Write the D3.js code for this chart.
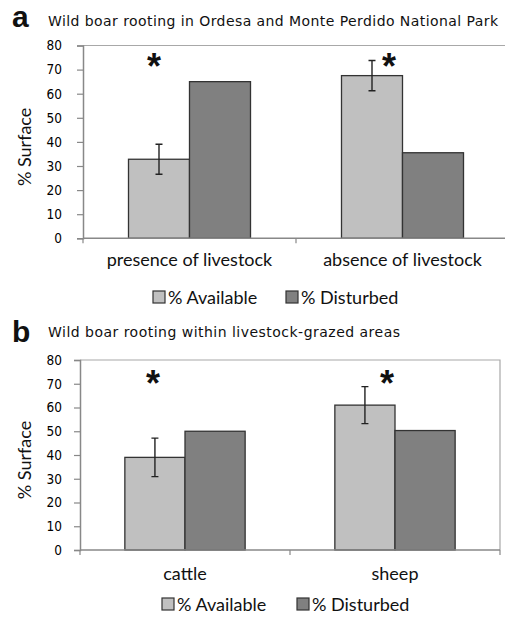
<!DOCTYPE html>
<html><head><meta charset="utf-8">
<script src="https://cdn.jsdelivr.net/npm/d3@7"></script>
<style>body{margin:0;background:#fff}svg{display:block}</style>
</head><body>
<svg id="c" width="505" height="617"></svg>
<script>
const series = ["% Available", "% Disturbed"];
const yTicks = [0, 10, 20, 30, 40, 50, 60, 70, 80];

const catsA = ["presence of livestock", "absence of livestock"];
const availA = [32.8, 67.5];
const availErrA = [6.2, 6.3];
const distA = [65, 35.5];

const catsB = ["cattle", "sheep"];
const availB = [39, 61];
const availErrB = [8.1, 7.8];
const distB = [50, 50.3];

const colors = ["#c0c0c0", "#808080"];
const svg = d3.select("#c");

function panel(o) {
  const g = svg.append("g");
  const y = d3.scaleLinear().domain([0, 80]).range([o.y0, o.y1]);
  const x0 = d3.scaleBand().domain(o.cats).range([o.x0, o.x1]);
  const bw = x0.bandwidth();
  const x1 = d3.scaleBand().domain(series).range([bw * 0.2136, bw * 0.7864]);

  // frame top / right
  g.append("path").attr("d", `M${o.x0},${y(80)}H${o.x1}V${y(0)}`)
    .attr("fill", "none").attr("stroke", "#a8a8a8").attr("stroke-width", 1.2);

  const rows = o.cats.map((c, i) => ({c, vals: [o.avail[i], o.dist[i]], err: o.err[i]}));
  const grp = g.selectAll(".grp").data(rows).join("g")
    .attr("transform", d => `translate(${x0(d.c)},0)`);
  grp.selectAll("rect").data(d => d.vals.map((v, j) => ({s: series[j], v, j})))
    .join("rect")
    .attr("x", d => x1(d.s)).attr("width", x1.bandwidth())
    .attr("y", d => y(d.v)).attr("height", d => y(0) - y(d.v))
    .attr("fill", d => colors[d.j]).attr("stroke", "#333").attr("stroke-width", 1.3);

  // error bars on available
  grp.each(function(d) {
    const cx = x1(series[0]) + x1.bandwidth() / 2;
    const s = d3.select(this);
    const t = y(d.vals[0] + d.err), b = y(d.vals[0] - d.err);
    s.append("path").attr("d", `M${cx},${t}V${b}M${cx-3.5},${t}H${cx+3.5}M${cx-3.5},${b}H${cx+3.5}`)
      .attr("stroke", "#222").attr("stroke-width", 1.4).attr("fill", "none");
  });

  // asterisks
  g.selectAll(".ast").data(o.ast).join("text")
    .attr("x", (d, i) => x0(o.cats[i]) + d.dx).attr("y", d => y(d.v))
    .attr("text-anchor", "middle").attr("font-family", "Liberation Sans, Arial")
    .attr("font-weight", "bold")
    .attr("font-size", 36).attr("fill", "#111").text("*");

  // y axis
  const ya = d3.axisLeft(y).tickValues(yTicks).tickSize(6).tickPadding(o.tp);
  const yg = g.append("g").attr("transform", `translate(${o.x0},0)`).call(ya);
  yg.select(".domain").attr("stroke", "#888").attr("stroke-width", 1.5);
  yg.selectAll(".tick line").attr("stroke", "#888").attr("stroke-width", 1.2);
  yg.selectAll(".tick text").attr("font-family", "DejaVu Sans Condensed").attr("font-size", 13.5).attr("fill", "#000");

  // x axis
  const xa = d3.axisBottom(x0).tickSize(0).tickPadding(o.xp);
  const xg = g.append("g").attr("transform", `translate(0,${y(0)})`).call(xa);
  xg.select(".domain").remove();
  xg.append("line").attr("x1", o.x0).attr("x2", o.x1).attr("stroke", "#888").attr("stroke-width", 1.5);
  xg.selectAll(".sep").data([o.x0, x0.range()[0] + bw, o.x1]).join("line")
    .attr("x1", d => d).attr("x2", d => d).attr("y1", 0).attr("y2", 5)
    .attr("stroke", "#888").attr("stroke-width", 1.2);
  xg.selectAll(".tick text").attr("font-family", "Lato").attr("font-size", 18).attr("fill", "#111");

  // y label
  g.append("text").attr("transform", `translate(${o.labX},${(o.y0 + o.y1) / 2 + 5}) rotate(-90)`)
    .attr("text-anchor", "middle").attr("font-family", "Lato").attr("font-size", 18)
    .attr("fill", "#111").text("% Surface");

  // panel letter & title
  g.append("text").attr("x", 12).attr("y", o.letterY).attr("font-family", "Liberation Sans, Arial")
    .attr("font-weight", "bold").attr("font-size", 30).attr("fill", "#111").text(o.letter);
  g.append("text").attr("x", 48).attr("y", o.titleY).attr("font-family", "DejaVu Sans")
    .attr("font-size", 14).attr("textLength", o.titleW).attr("lengthAdjust", "spacing")
    .attr("fill", "#111").text(o.title);

  // legend
  const lg = g.selectAll(".lg").data(series).join("g")
    .attr("transform", (d, i) => `translate(${o.legX[i]},${o.legY})`);
  lg.append("rect").attr("x", 0).attr("y", -6).attr("width", 12).attr("height", 12)
    .attr("fill", (d, i) => colors[i]).attr("stroke", "#333").attr("stroke-width", 1.2);
  lg.append("text").attr("x", 15).attr("y", 7).attr("font-family", "Lato").attr("font-size", 18)
    .attr("fill", "#111").text(d => d);
}

panel({
  cats: catsA, avail: availA, err: availErrA, dist: distA,
  x0: 83, x1: 509, y0: 238.3, y1: 45.5, tp: 15, xp: 15,
  ast: [{dx: 71, v: 66.3}, {dx: 93, v: 66.3}],
  labX: 31, letter: "a", letterY: 27, title: "Wild boar rooting in Ordesa and Monte Perdido National Park",
  titleY: 26, titleW: 450, legX: [153, 286], legY: 297
});
panel({
  cats: catsB, avail: availB, err: availErrB, dist: distB,
  x0: 80, x1: 500, y0: 550, y1: 360, tp: 12, xp: 17,
  ast: [{dx: 73, v: 65}, {dx: 97, v: 65}],
  labX: 31, letter: "b", letterY: 342, title: "Wild boar rooting within livestock-grazed areas",
  titleY: 337, titleW: 352, legX: [162, 297], legY: 604
});
</script>
</body></html>
